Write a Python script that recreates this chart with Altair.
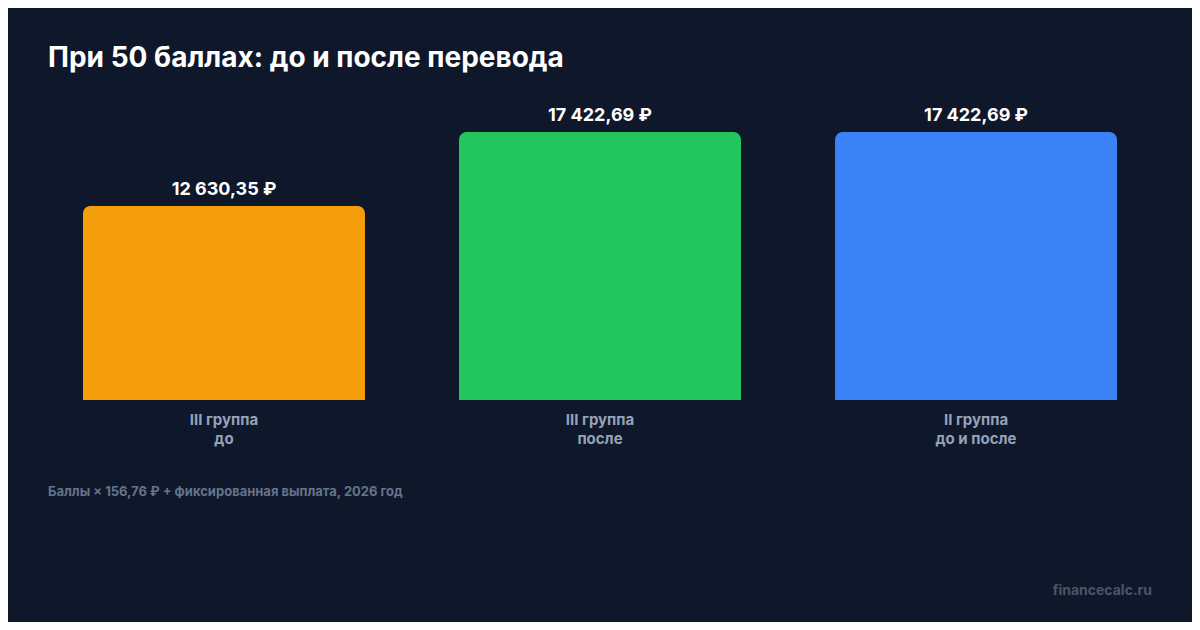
import altair as alt
import pandas as pd

# ---- data ----
keys = ["g3_before", "g3_after", "g2_both"]
categories = ["III группа\nдо", "III группа\nпосле", "II группа\nдо и после"]
values = [12630.35, 17422.69, 17422.69]
value_labels = ["12 630,35 ₽", "17 422,69 ₽", "17 422,69 ₽"]
colors = ["#f59e0b", "#22c55e", "#3b82f6"]

title_text = "При 50 баллах: до и после перевода"
footnote_text = "Баллы × 156,76 ₽ + фиксированная выплата, 2026 год"
source_text = "financecalc.ru"

df = pd.DataFrame({"key": keys, "category": categories, "value": values, "label": value_labels})

FONT = "Inter"
BG = "#0f172a"

x = alt.X("key:N", sort=keys, axis=None,
          scale=alt.Scale(paddingInner=0.25, paddingOuter=0.093))
y_scale = alt.Scale(domain=[0, 19500], nice=False, zero=True)

base = alt.Chart(df)

bars = base.mark_bar(cornerRadiusTopLeft=8, cornerRadiusTopRight=8).encode(
    x=x,
    y=alt.Y("value:Q", scale=y_scale, axis=None),
    color=alt.Color("key:N", scale=alt.Scale(domain=keys, range=colors), legend=None),
)

value_text = base.mark_text(
    dy=-11, baseline="alphabetic", align="center", font=FONT, fontWeight="bold",
    fontSize=18, color="#ffffff"
).encode(
    x=x,
    y=alt.Y("value:Q", scale=y_scale, axis=None),
    text="label:N",
)

cat_text = base.mark_text(
    dy=25, baseline="alphabetic", align="center", font=FONT, fontWeight="bold",
    fontSize=15, color="#94a3b8", lineBreak="\n", lineHeight=19
).encode(
    x=x,
    y=alt.Y(datum=0, scale=y_scale, axis=None),
    text="category:N",
)

title = alt.Chart(pd.DataFrame({"t": [title_text]})).mark_text(
    align="left", baseline="alphabetic", font=FONT, fontWeight="bold",
    fontSize=28, color="#ffffff"
).encode(text="t:N", x=alt.value(0), y=alt.value(-33))

footnote = alt.Chart(pd.DataFrame({"t": [footnote_text]})).mark_text(
    align="left", baseline="alphabetic", font=FONT, fontWeight="bold",
    fontSize=13, color="#64748b"
).encode(text="t:N", x=alt.value(0), y=alt.value(396))

source = alt.Chart(pd.DataFrame({"t": [source_text]})).mark_text(
    align="right", baseline="alphabetic", font=FONT, fontWeight="bold",
    fontSize=14, color="#475569"
).encode(text="t:N", x=alt.value(1104), y=alt.value(495))

chart = alt.layer(bars, value_text, cat_text, title, footnote, source).properties(
    width=1104,
    height=300,
    padding={"left": 40, "top": 92, "right": 40, "bottom": 222},
    autosize=alt.AutoSizeParams(type="none"),
    background=BG,
).configure_view(strokeWidth=0)

chart.save("out.html", embed_options={"renderer": "svg", "actions": False})
